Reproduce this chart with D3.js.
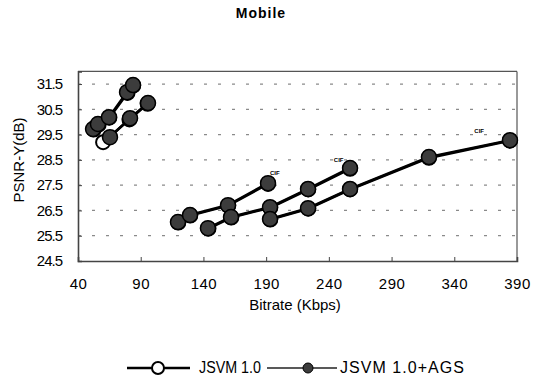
<!DOCTYPE html>
<html>
<head>
<meta charset="utf-8">
<script src="https://cdn.jsdelivr.net/npm/d3@7"></script>
<style>
body { margin: 0; background: #fff; }
svg text { font-family: "Liberation Sans", Arial, sans-serif; fill: #000; }
</style>
</head>
<body>
<div id="chart"></div>
<script>
// tick values
var xTicks = [40, 90, 140, 190, 240, 290, 340, 390];
var yTicks = [24.5, 25.5, 26.5, 27.5, 28.5, 29.5, 30.5, 31.5];

// JSVM 1.0+AGS, one array per curve: [bitrate, psnr]
var agsCurve1 = [[52.0, 29.72], [55.9, 29.92], [64.7, 30.19], [79.1, 31.18], [83.9, 31.46]];
var agsCurve2 = [[65.5, 29.40], [81.5, 30.15], [95.8, 30.75]];
var agsCurve3 = [[119.7, 26.04], [129.3, 26.32], [159.6, 26.71], [191.5, 27.58]];
var agsCurve4 = [[143.6, 25.80], [162.0, 26.24], [193.1, 26.63], [223.4, 27.35], [256.9, 28.18]];
var agsCurve5 = [[193.1, 26.16], [223.4, 26.59], [256.9, 27.35], [319.8, 28.61], [384.4, 29.28]];

// JSVM 1.0 (mostly hidden under the AGS markers)
var jsvmCurve1 = [[52.5, 29.70], [56.5, 29.90], [65.0, 30.17], [79.5, 31.15], [84.0, 31.44]];
var jsvmCurve2 = [[60.0, 29.20], [81.0, 30.10], [95.5, 30.72]];
var jsvmCurve3 = [[120.0, 26.02], [129.5, 26.30], [159.8, 26.69], [191.5, 27.55]];
var jsvmCurve4 = [[144.0, 25.78], [162.2, 26.22], [193.3, 26.61], [223.6, 27.33], [256.9, 28.15]];
var jsvmCurve5 = [[193.3, 26.14], [223.6, 26.57], [256.9, 27.33], [319.8, 28.58], [384.4, 29.26]];

var agsCurves = [agsCurve1, agsCurve2, agsCurve3, agsCurve4, agsCurve5];
var jsvmCurves = [jsvmCurve1, jsvmCurve2, jsvmCurve3, jsvmCurve4, jsvmCurve5];

// little "CIF" marks printed near the curves
var cifNotes = [[193, 27.9], [244, 28.4], [356, 29.55]];

var width = 533, height = 376;
var svg = d3.select("#chart").append("svg")
  .attr("width", width)
  .attr("height", height);

var x = d3.scaleLinear().domain([40, 390]).range([78, 517]);
var y = d3.scaleLinear().domain([24.5, 32]).range([261, 71.4]);

// grid lines (broken, faint)
svg.append("g")
  .selectAll("line")
  .data(yTicks.slice(1))
  .enter()
  .append("line")
  .attr("x1", x(40))
  .attr("x2", x(390))
  .attr("y1", function(d) { return y(d); })
  .attr("y2", function(d) { return y(d); })
  .attr("stroke", "#8a8a8a")
  .attr("stroke-width", 1.2)
  .style("stroke-dasharray", "3,11");

// frame top and right
svg.append("line")
  .attr("x1", x(40)).attr("x2", x(390))
  .attr("y1", y(32)).attr("y2", y(32))
  .attr("stroke", "#555").attr("stroke-width", 1.2);
svg.append("line")
  .attr("x1", x(390)).attr("x2", x(390))
  .attr("y1", y(32)).attr("y2", y(24.5))
  .attr("stroke", "#555").attr("stroke-width", 1.2);

// axes with inward ticks
var xAxis = svg.append("g")
  .attr("transform", "translate(0," + y(24.5) + ")")
  .call(d3.axisBottom(x).tickValues(xTicks).tickSize(-4).tickPadding(17).tickFormat(d3.format("d")));
var yAxis = svg.append("g")
  .attr("transform", "translate(" + x(40) + ",0)")
  .call(d3.axisLeft(y).tickValues(yTicks).tickSize(-4).tickPadding(16).tickFormat(d3.format(".1f")));

[xAxis, yAxis].forEach(function(a) {
  a.select(".domain").attr("stroke", "#444").attr("stroke-width", 1.6);
  a.selectAll(".tick line").attr("stroke", "#444");
  a.selectAll("text").style("font-family", "Liberation Sans, Arial, sans-serif").attr("fill", "#000");
});
xAxis.selectAll("text").style("font-size", "15px").attr("letter-spacing", "0.5px");
yAxis.selectAll("text").style("font-size", "15px").attr("letter-spacing", "-1px");

var line = d3.line()
  .x(function(d) { return x(d[0]); })
  .y(function(d) { return y(d[1]); });

// JSVM 1.0 curves
svg.append("g")
  .selectAll("path")
  .data(jsvmCurves)
  .enter()
  .append("path")
  .attr("d", line)
  .attr("fill", "none")
  .attr("stroke", "#000")
  .attr("stroke-width", 2.6);

svg.append("g")
  .selectAll("circle")
  .data(d3.merge(jsvmCurves))
  .enter()
  .append("circle")
  .attr("cx", function(d) { return x(d[0]); })
  .attr("cy", function(d) { return y(d[1]); })
  .attr("r", 7)
  .attr("fill", "#fff")
  .attr("stroke", "#000")
  .attr("stroke-width", 2);

// JSVM 1.0+AGS curves
svg.append("g")
  .selectAll("path")
  .data(agsCurves)
  .enter()
  .append("path")
  .attr("d", line)
  .attr("fill", "none")
  .attr("stroke", "#000")
  .attr("stroke-width", 2.6);

svg.append("g")
  .selectAll("circle")
  .data(d3.merge(agsCurves))
  .enter()
  .append("circle")
  .attr("cx", function(d) { return x(d[0]); })
  .attr("cy", function(d) { return y(d[1]); })
  .attr("r", 7.5)
  .attr("fill", "#3c3c3c")
  .attr("stroke", "#000")
  .attr("stroke-width", 1.5);

// CIF notes
svg.append("g")
  .selectAll("text")
  .data(cifNotes)
  .enter()
  .append("text")
  .attr("x", function(d) { return x(d[0]); })
  .attr("y", function(d) { return y(d[1]); })
  .style("font-size", "6px")
  .style("font-weight", "bold")
  .attr("fill", "#222")
  .text("CIF");

// title
svg.append("text")
  .attr("x", 261)
  .attr("y", 18)
  .attr("text-anchor", "middle")
  .style("font-size", "14px")
  .style("font-weight", "bold")
  .attr("letter-spacing", "1px")
  .text("Mobile");

// axis titles
svg.append("text")
  .attr("x", 295)
  .attr("y", 310)
  .attr("text-anchor", "middle")
  .style("font-size", "15px")
  .text("Bitrate (Kbps)");

svg.append("text")
  .attr("transform", "translate(24,160) rotate(-90)")
  .attr("text-anchor", "middle")
  .style("font-size", "15px")
  .text("PSNR-Y(dB)");

// legend
var legY = 368;
svg.append("line")
  .attr("x1", 127).attr("x2", 190)
  .attr("y1", legY).attr("y2", legY)
  .attr("stroke", "#000").attr("stroke-width", 2.6);
svg.append("circle")
  .attr("cx", 158).attr("cy", legY).attr("r", 6)
  .attr("fill", "#fff").attr("stroke", "#000").attr("stroke-width", 2);
svg.append("text")
  .attr("x", 199).attr("y", legY + 5)
  .style("font-size", "16px")
  .attr("textLength", 62)
  .attr("lengthAdjust", "spacingAndGlyphs")
  .text("JSVM  1.0");

svg.append("line")
  .attr("x1", 267).attr("x2", 337)
  .attr("y1", legY).attr("y2", legY)
  .attr("stroke", "#222").attr("stroke-width", 1.5);
svg.append("circle")
  .attr("cx", 308).attr("cy", legY).attr("r", 5)
  .attr("fill", "#3c3c3c").attr("stroke", "#000").attr("stroke-width", 1);
svg.append("text")
  .attr("x", 340).attr("y", legY + 5)
  .style("font-size", "16px")
  .attr("textLength", 124)
  .attr("lengthAdjust", "spacing")
  .text("JSVM  1.0+AGS");
</script>
</body>
</html>
